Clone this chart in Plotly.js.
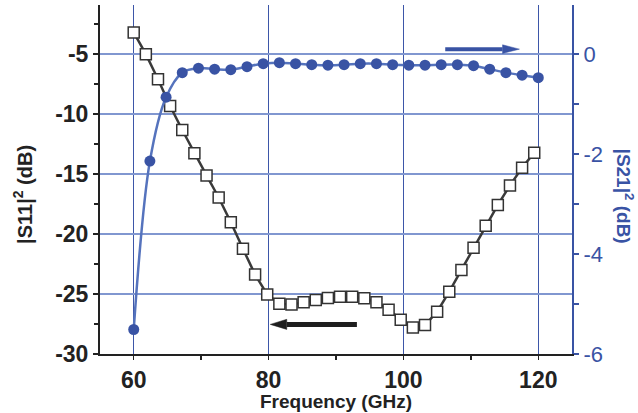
<!DOCTYPE html>
<html>
<head>
<meta charset="utf-8">
<script src="https://cdn.plot.ly/plotly-3.0.1.min.js"></script>
<style>html,body{margin:0;padding:0;background:#fff;}#chart{width:638px;height:413px;}</style>
</head>
<body>
<div id="chart"></div>
<script>
// |S11|^2 (dB) – open squares, left axis
const s11Freq = [60,61.8,63.6,65.4,67.2,69,70.8,72.6,74.4,76.2,78,79.8,81.6,83.4,85.2,87,88.8,90.6,92.4,94.2,96,97.8,99.6,101.4,103.2,105,106.8,108.6,110.4,112.2,114,115.8,117.6,119.4];
const s11dB = [-3.19,-5.0,-7.09,-9.32,-11.32,-13.27,-15.11,-16.95,-19.01,-21.23,-23.38,-25.03,-25.80,-25.88,-25.69,-25.49,-25.33,-25.22,-25.22,-25.36,-25.69,-26.30,-27.14,-27.78,-27.58,-26.47,-24.80,-22.99,-21.15,-19.31,-17.57,-15.94,-14.47,-13.21];
// |S21|^2 (dB) – filled circles, right axis
const s21Freq = [60,62.4,64.8,67.2,69.6,72,74.4,76.8,79.2,81.6,84,86.4,88.8,91.2,93.6,96,98.4,100.8,103.2,105.6,108,110.4,112.8,115.2,117.6,120];
const s21dB = [-5.51,-2.14,-0.86,-0.37,-0.28,-0.30,-0.31,-0.25,-0.19,-0.17,-0.19,-0.21,-0.22,-0.21,-0.19,-0.19,-0.21,-0.22,-0.22,-0.21,-0.21,-0.23,-0.30,-0.37,-0.42,-0.47];
// tick values
const xTicks = [60,80,100,120];
const yLeftTicks = [-30,-25,-20,-15,-10,-5];
const yRightTicks = [-6,-4,-2,0];
// direction arrows: [tailX, headBaseX, tipX, y(left axis dB), halfHead(dB), colour, width]
const arrowRight = [106.2,114.7,117.2,-4.58,0.36,'#3953a4',4];
const arrowLeft  = [93.1,82.7,80.25,-27.53,0.42,'#1e1e1e',5];

const BLUE = '#3953a4';
const FONT = 'Liberation Sans, Arial, Helvetica, sans-serif';

const traces = [
  {x:s11Freq, y:s11dB, xaxis:'x', yaxis:'y', type:'scatter', mode:'lines+markers',
   line:{color:'#3a3a3a', width:2.5},
   marker:{symbol:'square', size:11, color:'#ffffff', line:{color:'#333333', width:1.5}},
   showlegend:false, hoverinfo:'skip'},
  {x:s21Freq, y:s21dB, xaxis:'x', yaxis:'y2', type:'scatter', mode:'lines+markers',
   line:{color:'#5573bd', width:2.5, shape:'spline', smoothing:1},
   marker:{symbol:'circle', size:11, color:BLUE},
   showlegend:false, hoverinfo:'skip'}
];

function arrowShapes(a){
  const [tail, base, tip, y, hh, col, w] = a;
  return [
    {type:'line', xref:'x', yref:'y', x0:tail, x1:base, y0:y, y1:y, line:{color:col, width:w}, layer:'above'},
    {type:'path', xref:'x', yref:'y', path:`M${base},${y+hh} L${tip},${y} L${base},${y-hh} Z`, fillcolor:col, line:{color:col, width:0.5}, layer:'above'}
  ];
}

const layout = {
  width:638, height:413,
  margin:{l:100, r:66, t:5, b:59, pad:0},
  paper_bgcolor:'#ffffff', plot_bgcolor:'#ffffff',
  showlegend:false,
  font:{family:FONT, color:'#222'},
  xaxis:{range:[55,125], tickvals:xTicks, ticktext:xTicks.map(String),
    showgrid:true, gridcolor:'#3d56a8', gridwidth:1, zeroline:false,
    showline:true, linecolor:'#222', linewidth:2,
    ticks:'outside', ticklen:4, tickwidth:1.5, tickcolor:'#222',
    minor:{dtick:10, tick0:60, ticks:'outside', ticklen:4, tickwidth:1.5, tickcolor:'#222', showgrid:false},
    tickfont:{family:FONT, size:23, weight:'bold', color:'#222'}},
  xaxis2:{range:[55,125], overlaying:'x', side:'top', anchor:'y', showgrid:false, zeroline:false,
    showline:true, linecolor:'#222', linewidth:2, showticklabels:false,
    tickvals:[60,70,80,90,100,110,120], ticks:'inside', ticklen:4, tickwidth:1.5, tickcolor:'#222'},
  yaxis:{range:[-30,-0.9], tickvals:yLeftTicks, ticktext:yLeftTicks.map(String),
    showgrid:true, gridcolor:'#8197d0', gridwidth:1.5, zeroline:false,
    showline:true, linecolor:'#222', linewidth:2,
    ticks:'outside', ticklen:5, tickwidth:1.5, tickcolor:'#222',
    minor:{dtick:2.5, tick0:-30, ticks:'outside', ticklen:4, tickwidth:1.5, tickcolor:'#222', showgrid:false},
    tickfont:{family:FONT, size:23, weight:'bold', color:'#222'}},
  yaxis2:{range:[-6,0.984], overlaying:'y', side:'right', anchor:'x', tickvals:yRightTicks, ticktext:yRightTicks.map(String),
    showgrid:false, zeroline:false, showline:true, linecolor:BLUE, linewidth:2,
    ticks:'outside', ticklen:5, tickwidth:1.5, tickcolor:BLUE,
    minor:{dtick:1, tick0:0, ticks:'outside', ticklen:5, tickwidth:1.5, tickcolor:BLUE, showgrid:false},
    tickfont:{family:FONT, size:22, color:BLUE}},
  annotations:[
    {text:'Frequency (GHz)', xref:'paper', yref:'paper', x:0.5, y:-0.137, xanchor:'center', yanchor:'middle',
     showarrow:false, font:{family:FONT, size:19, weight:'bold', color:'#222'}},
    {text:'|S11|<sup>2</sup> (dB)', xref:'paper', yref:'paper', x:-0.163, y:0.456, xanchor:'center', yanchor:'middle',
     textangle:-90, showarrow:false, font:{family:FONT, size:20, weight:'bold', color:'#222'}},
    {text:'|S21|<sup>2</sup> (dB)', xref:'paper', yref:'paper', x:1.113, y:0.453, xanchor:'center', yanchor:'middle',
     textangle:90, showarrow:false, font:{family:FONT, size:19, weight:'bold', color:BLUE}}
  ],
  shapes:[...arrowShapes(arrowRight), ...arrowShapes(arrowLeft)]
};

Plotly.newPlot('chart', traces, layout, {staticPlot:true, displayModeBar:false});
</script>
</body>
</html>
